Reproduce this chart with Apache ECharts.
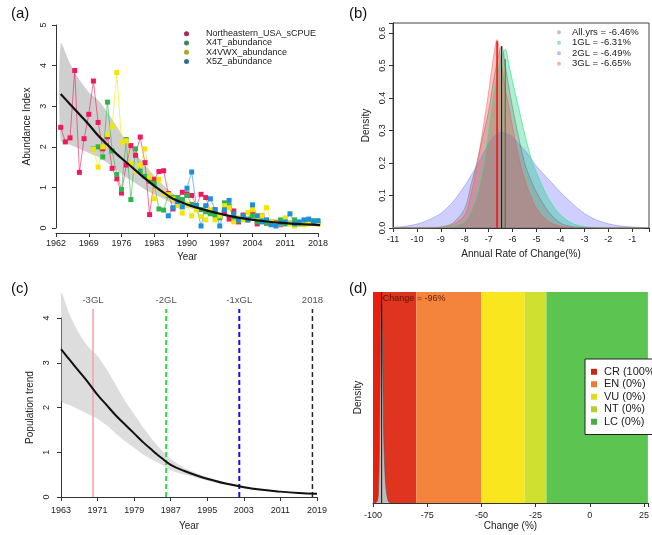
<!DOCTYPE html>
<html><head><meta charset="utf-8">
<script src="https://cdn.jsdelivr.net/npm/echarts@6/dist/echarts.min.js"></script>
<style>html,body{margin:0;padding:0;background:#fff}#c{width:652px;height:535px}</style>
</head><body><div id="c"></div>
<script>
// ---------- Panel (a) data ----------
const yearsA = [1963,1964,1965,1966,1967,1968,1969,1970,1971,1972,1973,1974,1975,1976,1977,1978,1979,1980,1981,1982,1983,1984,1985,1986,1987,1988,1989,1990,1991,1992,1993,1994,1995,1996,1997,1998,1999,2000,2001,2002,2003,2004,2005,2006,2007,2008,2009,2010,2011,2012,2013,2014,2015,2016,2017,2018];
const neUSA = [2.48,2.12,2.22,3.88,1.37,2.20,2.80,3.62,2.60,1.95,2.25,1.47,1.21,0.86,1.55,2.03,1.79,2.24,1.61,0.33,1.20,1.39,1.41,0.85,0.47,0.70,0.88,0.84,0.80,0.55,0.83,0.75,0.43,0.45,0.30,0.38,0.22,0.42,0.15,0.32,0.20,0.36,0.10,0.30,0.12,0.10,0.14,0.08,null,null,null,null,null,null,null,null];
const x4T = [null,null,null,null,null,null,null,1.95,2.00,1.75,3.10,1.90,1.32,0.95,2.18,0.70,1.95,1.40,1.27,1.15,1.10,0.47,0.44,0.80,0.75,0.75,0.70,0.80,0.58,0.55,0.45,0.40,0.35,0.30,0.25,0.62,0.55,0.20,0.18,0.25,0.22,0.30,0.15,0.20,0.12,0.15,0.10,0.20,0.10,0.12,0.20,0.10,0.12,0.15,0.18,0.12];
const x4VWX = [null,null,null,null,null,null,null,1.94,1.50,2.00,2.30,2.50,3.83,2.10,2.15,1.58,1.40,1.55,1.95,1.25,0.72,1.20,0.85,0.82,0.72,0.55,0.37,0.58,0.30,0.45,0.28,0.20,0.45,0.20,0.30,0.55,0.50,0.15,0.25,0.20,0.38,0.45,0.25,0.30,0.50,0.15,0.12,0.10,0.25,0.10,0.05,0.12,0.08,0.10,0.12,0.10];
const x5Z = [null,null,null,null,null,null,null,null,null,null,null,null,null,null,null,null,null,null,null,null,null,null,null,0.30,0.50,0.65,0.52,0.98,1.38,0.55,0.05,0.55,0.72,0.45,0.05,0.45,0.68,0.35,0.20,0.30,0.20,0.57,0.30,0.15,0.20,0.08,0.05,0.12,0.15,0.35,0.10,0.15,0.20,0.22,0.15,0.18];
const seriesNamesA = ['Northeastern_USA_sCPUE','X4T_abundance','X4VWX_abundance','X5Z_abundance'];

// trend and uncertainty band (shared by panels a and c)
const trendYears = [1963,1965,1967,1969,1971,1973,1975,1977,1979,1981,1983,1985,1987,1990,1993,1996,1999,2003,2007,2011,2015,2019];
const trendVals  = [3.30,3.05,2.80,2.55,2.28,2.05,1.82,1.62,1.42,1.22,1.04,0.87,0.72,0.58,0.47,0.38,0.30,0.22,0.16,0.12,0.09,0.07];
const bandUpper  = [4.55,4.05,3.65,3.35,3.15,2.85,2.50,2.15,1.85,1.55,1.28,1.05,0.85,0.65,0.52,0.42,0.33,0.25,0.18,0.13,0.10,0.08];
const bandLower  = [2.15,2.05,1.95,1.85,1.75,1.60,1.42,1.25,1.10,0.95,0.83,0.72,0.60,0.50,0.42,0.34,0.27,0.20,0.14,0.10,0.08,0.06];

// ---------- Panel (b) data ----------
const rateGrid = [-11,-10.5,-10,-9.5,-9,-8.5,-8,-7.75,-7.5,-7.25,-7,-6.85,-6.65,-6.46,-6.31,-6.15,-6,-5.75,-5.5,-5.25,-5,-4.5,-4,-3.5,-3,-2.5,-2,-1.5,-1,-0.5];
const densAll = [0,0,0,0,0.003,0.015,0.06,0.13,0.20,0.28,0.36,0.43,0.51,0.56,0.50,0.43,0.37,0.28,0.20,0.15,0.11,0.05,0.015,0.004,0.001,0,0,0,0,0];
const dens1GL = [0,0,0,0,0.001,0.006,0.02,0.05,0.10,0.18,0.30,0.38,0.47,0.53,0.55,0.50,0.45,0.37,0.29,0.22,0.17,0.09,0.04,0.014,0.004,0.001,0,0,0,0];
const dens2GL = [0.002,0.005,0.012,0.025,0.045,0.08,0.13,0.16,0.19,0.225,0.26,0.275,0.29,0.295,0.292,0.287,0.28,0.26,0.24,0.215,0.19,0.15,0.11,0.075,0.045,0.025,0.013,0.006,0.003,0.001];
const dens3GL = [0,0,0,0,0.002,0.01,0.04,0.10,0.19,0.30,0.42,0.50,0.58,0.50,0.43,0.37,0.31,0.22,0.15,0.10,0.06,0.02,0.005,0.001,0,0,0,0,0,0];
const rateNames = ['All.yrs = -6.46%','1GL = -6.31%','2GL = -6.49%','3GL = -6.65%'];
const rateMedians = [-6.46,-6.31,-6.49,-6.65];
const rateLineTops = [0.56,0.52,0.53,0.575];

// ---------- Panel (c) data ----------
const glYears = [1970,1986,2002,2018];
const glLabels = ['-3GL','-2GL','-1xGL','2018'];

// ---------- Panel (d) data ----------
const changeGrid = [-99,-98,-97.5,-97,-96.5,-96.2,-95.8,-95.3,-95,-94.5,-94,-93,-92];
const changeDens = [0,0.01,0.05,0.3,0.8,0.98,0.85,0.5,0.3,0.15,0.07,0.01,0];
const changeMedian = -96;
const catNames = ['CR (100%)','EN (0%)','VU (0%)','NT (0%)','LC (0%)'];
const catFrom = [-100,-80,-50,-30,-20];
const catTo   = [-80,-50,-30,-20,30];

// ---------- build ----------
const FONT = 'Liberation Sans, Arial, sans-serif';
const txt = '#222';
const pair = (xs, ys) => xs.map((x,i)=>[x, ys[i]]).filter(p=>p[1]!==null);
const colorsA = ['#f01a5a','#2fb44c','#f2e600','#1e8fdc'];
const legDotsA = ['#a8284e','#3c8a4c','#a8a82a','#2a6ea0'];
const valsA = [neUSA, x4T, x4VWX, x5Z];

function axisBase(extra){
  return Object.assign({
    type:'value',
    splitLine:{show:false},
    axisLine:{show:true,onZero:false,lineStyle:{color:'#333',width:1}},
    axisTick:{show:true,length:4,lineStyle:{color:'#333'}},
    axisLabel:{fontSize:9,color:txt,fontFamily:FONT},
    nameTextStyle:{fontSize:10,color:txt,fontFamily:FONT},
    nameLocation:'middle'
  }, extra);
}

function bandSeries(xi, yi, fill){
  return {
    type:'custom', xAxisIndex:xi, yAxisIndex:yi, clip:true, silent:true, z:1,
    data: trendYears.map((y,i)=>[y, bandLower[i], bandUpper[i]]),
    renderItem:(params, api)=>{
      if (params.dataIndex !== 0) return null;
      const pts = [];
      for (let i=0;i<trendYears.length;i++) pts.push(api.coord([trendYears[i], bandUpper[i]]));
      for (let i=trendYears.length-1;i>=0;i--) pts.push(api.coord([trendYears[i], bandLower[i]]));
      return {type:'polygon', shape:{points:pts, smooth:0.25}, style:{fill:fill}};
    }
  };
}

const series = [];
// (a)
series.push(bandSeries(0,0,'rgba(160,160,160,0.5)'));
valsA.forEach((v,k)=>{
  series.push({
    name:seriesNamesA[k], type:'line', xAxisIndex:0, yAxisIndex:0,
    data: pair(yearsA, v), symbol:'rect', symbolSize:5, z:3,
    itemStyle:{color:colorsA[k]},
    lineStyle:{color:colorsA[k], width:0.8, opacity:0.75}
  });
});
series.push({type:'line', xAxisIndex:0, yAxisIndex:0, data:pair(trendYears, trendVals), smooth:0.4, symbol:'none', z:5, lineStyle:{color:'#111', width:2.2}});

// (b)
const densCols = ['rgba(130,120,100,0.45)','rgba(0,205,120,0.45)','rgba(120,120,255,0.5)','rgba(255,60,60,0.42)'];
const densLine = ['rgba(110,110,110,0.6)','rgba(60,230,140,0.9)','rgba(120,120,255,0.6)','rgba(255,80,80,0.6)'];
const densArr = [densAll, dens1GL, dens2GL, dens3GL];
[2,1,0,3].forEach(k=>{
  series.push({
    name:rateNames[k], type:'line', xAxisIndex:1, yAxisIndex:1,
    data: pair(rateGrid, densArr[k]), smooth:0.3, symbol:'none', z:2,
    itemStyle:{color:densCols[k]},
    lineStyle:{color:densLine[k], width:0.8},
    areaStyle:{color:densCols[k]}
  });
});
const medCols = ['#111','#2a7a2a','#4a4a4a','#ff1010'];
[1,0,3].forEach(k=>{
  series.push({type:'line', xAxisIndex:1, yAxisIndex:1, symbol:'none', z:4,
    data:[[rateMedians[k],0],[rateMedians[k],rateLineTops[k]]],
    lineStyle:{color:medCols[k], width:k===3?1.6:1}});
});

// (c)
series.push(bandSeries(2,2,'rgba(175,175,175,0.42)'));
series.push({type:'line', xAxisIndex:2, yAxisIndex:2, data:pair(trendYears, trendVals), smooth:0.4, symbol:'none', z:5, lineStyle:{color:'#111', width:2}});
const glCols = ['#f4a0b0','#30dd40','#1010ee','#222'];
const glType = ['solid',[5,3],[5,3],[5,3]];
const glW = [1.5,2,2,1.5];
glYears.forEach((y,k)=>{
  series.push({type:'line', xAxisIndex:2, yAxisIndex:2, symbol:'none', z:4,
    data:[[y,0],[y,4.2]], lineStyle:{color:glCols[k], width:glW[k], type:glType[k]}});
});
series.push({type:'scatter', xAxisIndex:2, yAxisIndex:2, symbolSize:0, z:6, silent:true,
  data: glYears.map((y,k)=>[y,4.4,glLabels[k]]),
  label:{show:true, position:'inside', formatter:p=>p.data[2], fontSize:9.5, color:txt, fontFamily:FONT}});

// (d)
const catCols = ['#df3420','#f4843c','#f9e61e','#cfe031','#5cc552'];
const legCols = ['#c8281a','#ee7a36','#e0dc22','#bccc2a','#46ad46'];
series.push({type:'line', xAxisIndex:4, yAxisIndex:4, data:[[-100,0]], symbol:'none', z:0, silent:true,
  lineStyle:{opacity:0},
  markArea:{silent:true, data: catFrom.map((f,k)=>[{xAxis:f, itemStyle:{color:catCols[k], opacity:1}},{xAxis:catTo[k]}])
    .concat([[{xAxis:-100, itemStyle:{color:'#ea1e0c',opacity:1}},{xAxis:-96}]])}
});
series.push({type:'line', xAxisIndex:4, yAxisIndex:4, data:pair(changeGrid, changeDens), smooth:0.3, symbol:'none', z:3,
  lineStyle:{color:'#555', width:0.6}, areaStyle:{color:'#bdbdbd', opacity:1}});
series.push({type:'line', xAxisIndex:4, yAxisIndex:4, data:[[changeMedian,0],[changeMedian,1.03]], symbol:'none', z:4,
  lineStyle:{color:'#111', width:1}});
series.push({type:'scatter', xAxisIndex:4, yAxisIndex:4, symbolSize:0, z:6, silent:true,
  data:[[changeMedian,1.0,'Change = -96%']],
  label:{show:true, position:'right', distance:1, formatter:p=>p.data[2], fontSize:9, color:'#3a0a00', fontFamily:FONT}});
catNames.forEach((n,k)=>{
  series.push({name:n, type:'line', xAxisIndex:4, yAxisIndex:4, data:[], itemStyle:{color:legCols[k]}});
});

const yearFmt = v => String(v);
const option = {
  backgroundColor:'#fff',
  animation:false,
  textStyle:{fontFamily:FONT},
  grid:[
    {left:56, top:25, width:262, height:203},
    {left:393, top:23, right:0, height:205, show:true, borderColor:'#444', borderWidth:1, backgroundColor:'transparent'},
    {left:61, top:291, width:256, height:206},
    {left:61, top:318, width:256, height:179},
    {left:373, top:292, right:0, height:211}
  ],
  xAxis:[
    axisBase({gridIndex:0, min:1962, max:2018, interval:7, offset:5, name:'Year', nameGap:19, axisLabel:{fontSize:9,color:txt,fontFamily:FONT,margin:6,formatter:yearFmt}}),
    axisBase({gridIndex:1, min:-11, max:-0.3, interval:1, name:'Annual Rate of Change(%)', nameGap:21,
      axisLabel:{fontSize:9,color:txt,fontFamily:FONT,margin:7,formatter:v=>Math.abs(v-Math.round(v))<1e-6?String(Math.round(v)):''}}),
    axisBase({gridIndex:2, min:1963, max:2019, show:false}),
    axisBase({gridIndex:3, min:1963, max:2019, interval:8, name:'Year', nameGap:24, axisLabel:{fontSize:9,color:txt,fontFamily:FONT,margin:9,formatter:yearFmt}}),
    axisBase({gridIndex:4, min:-100, max:26.8, interval:25, name:'Change (%)', nameGap:17,
      axisLabel:{fontSize:9,color:txt,fontFamily:FONT,margin:8,formatter:v=>(v%25===0)?String(v):''}})
  ],
  yAxis:[
    axisBase({gridIndex:0, min:0, max:5, interval:1, name:'Abundance Index', nameGap:24, axisLabel:{fontSize:9,color:txt,fontFamily:FONT,rotate:90,margin:8}}),
    axisBase({gridIndex:1, min:0, max:0.631, interval:0.1, name:'Density', nameGap:22,
      axisLabel:{fontSize:9,color:txt,fontFamily:FONT,rotate:90,margin:6,formatter:v=>(Math.abs(v*10-Math.round(v*10))<1e-6&&v<0.61)?v.toFixed(1):''}}),
    axisBase({gridIndex:2, min:0, max:4.6, show:false}),
    axisBase({gridIndex:3, min:0, max:4, interval:1, name:'Population trend', nameGap:26, axisLabel:{fontSize:9,color:txt,fontFamily:FONT,rotate:90,margin:10}}),
    axisBase({gridIndex:4, min:0, max:1.03, name:'Density', nameGap:10, axisLine:{show:false}, axisTick:{show:false}, axisLabel:{show:false}})
  ],
  legend:[
    {data:seriesNamesA.map((n,k)=>({name:n, itemStyle:{color:legDotsA[k]}})), orient:'vertical', left:184, top:29, itemGap:0, itemWidth:5, itemHeight:5, icon:'circle', selectedMode:false, padding:0,
      textStyle:{fontSize:9, color:txt, fontFamily:FONT, lineHeight:9.3, padding:[0,0,0,12]}},
    {data:rateNames, orient:'vertical', left:557, top:27, itemGap:0, itemWidth:4, itemHeight:4, icon:'circle', selectedMode:false, padding:0,
      textStyle:{fontSize:9.5, color:txt, fontFamily:FONT, lineHeight:10.5, padding:[0,0,0,6]}},
    {data:catNames, orient:'vertical', left:585, top:359, itemGap:1, itemWidth:6, itemHeight:6, icon:'rect', selectedMode:false,
      backgroundColor:'#fff', borderColor:'#222', borderWidth:1, borderRadius:0, padding:[7,8,7,6],
      textStyle:{fontSize:11, color:txt, fontFamily:FONT, lineHeight:11.5, padding:[0,0,0,2]}}
  ],
  graphic:[
    {type:'text', left:11, top:6, style:{text:'(a)', font:'15px '+FONT, fill:'#111'}},
    {type:'text', left:349, top:6, style:{text:'(b)', font:'15px '+FONT, fill:'#111'}},
    {type:'text', left:11, top:281, style:{text:'(c)', font:'15px '+FONT, fill:'#111'}},
    {type:'text', left:349, top:281, style:{text:'(d)', font:'15px '+FONT, fill:'#111'}}
  ],
  series
};
const chart = echarts.init(document.getElementById('c'), null, {renderer:'canvas'});
chart.setOption(option);
</script>
</body></html>
